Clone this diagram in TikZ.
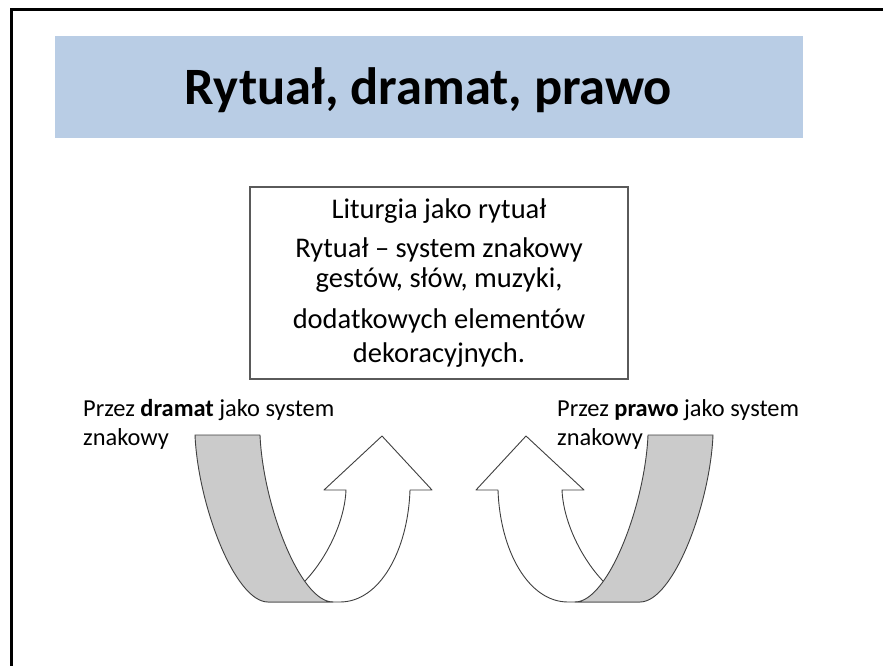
\documentclass[tikz,border=0pt]{standalone}
\usepackage{fontspec}
\setmainfont{Carlito}
\definecolor{bannerblue}{HTML}{B9CDE5}
\definecolor{backgray}{HTML}{CBCBCB}
\definecolor{edgegray}{HTML}{3F3F3F}
\definecolor{boxgray}{HTML}{5A5A5A}
\tikzset{
  arrowline/.style={draw=edgegray, line width=0.9pt, line join=round},
  titlefont/.style={font=\fontsize{52.5}{60}\selectfont\bfseries},
  bodyfont/.style={font=\fontsize{28.5}{34}\selectfont},
  labelfont/.style={font=\fontsize{24.4}{29}\selectfont},
  textline/.style={inner sep=0pt, anchor=base, text=black},
  labelline/.style={inner sep=0pt, anchor=base west, text=black, labelfont},
  % U-turn ribbon arrow: white front band with head, grey back band
  pics/uturn/.style={code={
    \draw[arrowline, fill=white]
      (346,490) -- (324,490) -- (382,436) -- (432,490) -- (410,490)
      .. controls (408,550) and (380,602) .. (340,602) -- (268,602)
      .. controls (300,602) and (344,540) .. (346,490) -- cycle;
    \draw[arrowline, fill=backgray]
      (195,435) -- (260,435)
      .. controls (263,505) and (300,602) .. (333,602) -- (268,602)
      .. controls (235,602) and (198,505) .. (195,435) -- cycle;
  }}
}
\begin{document}
\begin{tikzpicture}[x=1pt, y=-1pt]
  \useasboundingbox (0,0) rectangle (883,666);
  \fill[white] (0,0) rectangle (883,666);

  % slide frame
  \draw[black, line width=3pt] (11.5,670) -- (11.5,9.5) -- (890,9.5);

  % title banner
  \node[fill=bannerblue, inner sep=0pt, minimum width=748pt, minimum height=102pt]
    (banner) at (429,87) {};
  \node[textline, titlefont] (title) at (428.5,105) {Rytuał, dramat, prawo};

  % central text box
  \node[draw=boxgray, line width=1.2pt, fill=white, inner sep=0pt,
        minimum width=378pt, minimum height=192pt] (box) at (439,283) {};
  \node[textline, bodyfont] (l1) at (439,218) {Liturgia jako rytuał};
  \node[textline, bodyfont] (l2) at (439,257) {Rytuał – system znakowy};
  \node[textline, bodyfont] (l3) at (439,287) {gestów, słów, muzyki,};
  \node[textline, bodyfont] (l4) at (439,328) {dodatkowych elementów};
  \node[textline, bodyfont] (l5) at (439,362.5) {dekoracyjnych.};

  % side labels
  \node[labelline] (dl1) at (83,416) {Przez \textbf{dramat} jako system};
  \node[labelline] (dl2) at (83,445) {znakowy};
  \node[labelline] (pl1) at (557,416) {Przez \textbf{prawo} jako system};
  \node[labelline] (pl2) at (557,445) {znakowy};

  % the two curved arrows, mirrored
  \pic (leftarrow) at (0,0) {uturn};
  \pic[xscale=-1] (rightarrow) at (908,0) {uturn};
\end{tikzpicture}
\end{document}
